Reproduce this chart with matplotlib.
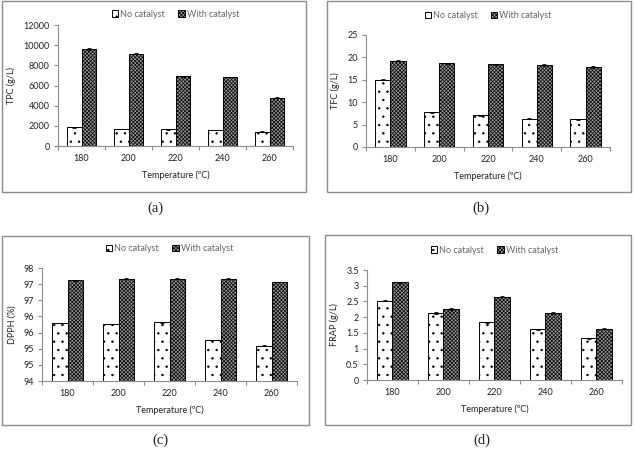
import math
import matplotlib
matplotlib.use("Agg")
import matplotlib.pyplot as plt
from matplotlib.patches import Rectangle, Patch
from matplotlib.ticker import FuncFormatter

plt.rcParams['font.family'] = ['Lato', 'DejaVu Sans']
plt.rcParams['hatch.linewidth'] = 0.5

temps = ['180', '200', '220', '240', '260']
labels = ['No catalyst', 'With catalyst']

# TPC (g/L)
tpc_no = [1850, 1690, 1650, 1590, 1420]
tpc_with = [9620, 9160, 6910, 6840, 4790]
tpc_err_no = [40, 30, 30, 30, 30]
tpc_err_with = [60, 50, 40, 40, 50]

# TFC (g/L)
tfc_no = [15.0, 7.8, 7.1, 6.3, 6.2]
tfc_with = [19.3, 18.7, 18.5, 18.3, 17.8]
tfc_err_no = [0.1, 0.1, 0.15, 0.1, 0.1]
tfc_err_with = [0.1, 0.1, 0.1, 0.15, 0.2]

# DPPH (%)
dpph_no = [95.80, 95.77, 95.82, 95.27, 95.09]
dpph_with = [97.12, 97.17, 97.17, 97.17, 97.07]
dpph_err_no = [0.01, 0.01, 0.01, 0.01, 0.01]
dpph_err_with = [0.01, 0.01, 0.01, 0.01, 0.01]

# FRAP (g/L)
frap_no = [2.52, 2.13, 1.83, 1.61, 1.33]
frap_with = [3.11, 2.26, 2.65, 2.13, 1.63]
frap_err_no = [0.02, 0.02, 0.02, 0.02, 0.01]
frap_err_with = [0.02, 0.02, 0.02, 0.02, 0.02]

W, H = 634, 463
fig = plt.figure(figsize=(W / 100, H / 100), dpi=100)

DOTS = '..'
CHECK = 'xxxxxxxxx'


def px_axes(x0, y0, x1, y1):
    # pixel box (top-left origin) -> figure axes
    return fig.add_axes([x0 / W, 1 - y1 / H, (x1 - x0) / W, (y1 - y0) / H])


def box(x0, y0, x1, y1):
    fig.patches.append(Rectangle((x0 / W, 1 - y1 / H), (x1 - x0) / W, (y1 - y0) / H,
                                 transform=fig.transFigure, fill=False,
                                 edgecolor='#8c8c8c', linewidth=1.0))


def round_half(v, pos):
    return str(int(math.floor(v + 0.5)))


def panel(rect, no, wi, eno, ewi, ylim, step, ylabel, fmt, leg_y):
    ax = px_axes(*rect)
    x = range(len(temps))
    w = 0.31
    ax.bar([i - w / 2 for i in x], no, w, color='white', edgecolor='black',
           hatch=DOTS, linewidth=0.7, yerr=eno, capsize=1.5,
           error_kw=dict(elinewidth=0.6, capthick=0.6), zorder=2)
    ax.bar([i + w / 2 for i in x], wi, w, color='#9a9a9a', edgecolor='black',
           hatch=CHECK, linewidth=0.7, yerr=ewi, capsize=1.5,
           error_kw=dict(elinewidth=0.6, capthick=0.6), zorder=2)
    ax.set_xlim(-0.5, len(temps) - 0.5)
    ax.set_ylim(*ylim)
    n = int(round((ylim[1] - ylim[0]) / step))
    ax.set_yticks([ylim[0] + k * step for k in range(n + 1)])
    ax.yaxis.set_major_formatter(FuncFormatter(fmt))
    ax.set_xticks([i - 0.5 for i in range(len(temps) + 1)])
    ax.set_xticklabels([])
    ax.set_xticks(list(x), minor=True)
    ax.set_xticklabels(temps, minor=True)
    ax.tick_params(axis='x', which='major', length=3, color='#8c8c8c', direction='out')
    ax.tick_params(axis='x', which='minor', length=0, pad=6, labelsize=6.5, labelcolor='#222222')
    ax.tick_params(axis='y', length=3, color='#8c8c8c', labelsize=6.5, labelcolor='#222222', pad=3)
    for s in ['top', 'right']:
        ax.spines[s].set_visible(False)
    for s in ['left', 'bottom']:
        ax.spines[s].set_color('#8c8c8c')
        ax.spines[s].set_linewidth(0.8)
    ax.set_xlabel('Temperature (ºC)', fontsize=6.5, color='#222222', labelpad=5)
    ax.set_ylabel(ylabel, fontsize=6.5, color='#222222', labelpad=5)
    handles = [Patch(facecolor='white', edgecolor='black', hatch=DOTS, linewidth=0.7),
               Patch(facecolor='#9a9a9a', edgecolor='black', hatch=CHECK, linewidth=0.7)]
    ax.legend(handles, labels, loc='center', bbox_to_anchor=(0.5, leg_y), ncol=2,
              frameon=False, fontsize=6.5, handlelength=0.7, handleheight=0.7,
              handletextpad=0.2, columnspacing=1.5, labelcolor='#666666')
    return ax


box(2, 1, 306, 192)
box(327, 1, 631, 192)
box(2, 236, 309, 425)
box(325, 235, 631, 425)

panel((58, 25, 293, 146), tpc_no, tpc_with, tpc_err_no, tpc_err_with,
      (0, 12000), 2000, 'TPC (g/L)', lambda v, p: '%d' % v, 1.09)
panel((366, 35, 610, 147), tfc_no, tfc_with, tfc_err_no, tfc_err_with,
      (0, 25), 5, 'TFC (g/L)', lambda v, p: '%d' % v, 1.17)
panel((42, 268, 297, 381), dpph_no, dpph_with, dpph_err_no, dpph_err_with,
      (94, 97.5), 0.5, 'DPPH (%)', round_half, 1.17)
panel((367, 270, 622, 380), frap_no, frap_with, frap_err_no, frap_err_with,
      (0, 3.5), 0.5, 'FRAP (g/L)', lambda v, p: '%g' % v, 1.18)

for cx, cy, t in [(155, 208, '(a)'), (481, 208, '(b)'), (160, 440, '(c)'), (482, 440, '(d)')]:
    fig.text(cx / W, 1 - cy / H, t, ha='center', va='center', fontsize=10.5,
             family='Liberation Serif', color='#222222')

fig.savefig('out.png', dpi=100)
